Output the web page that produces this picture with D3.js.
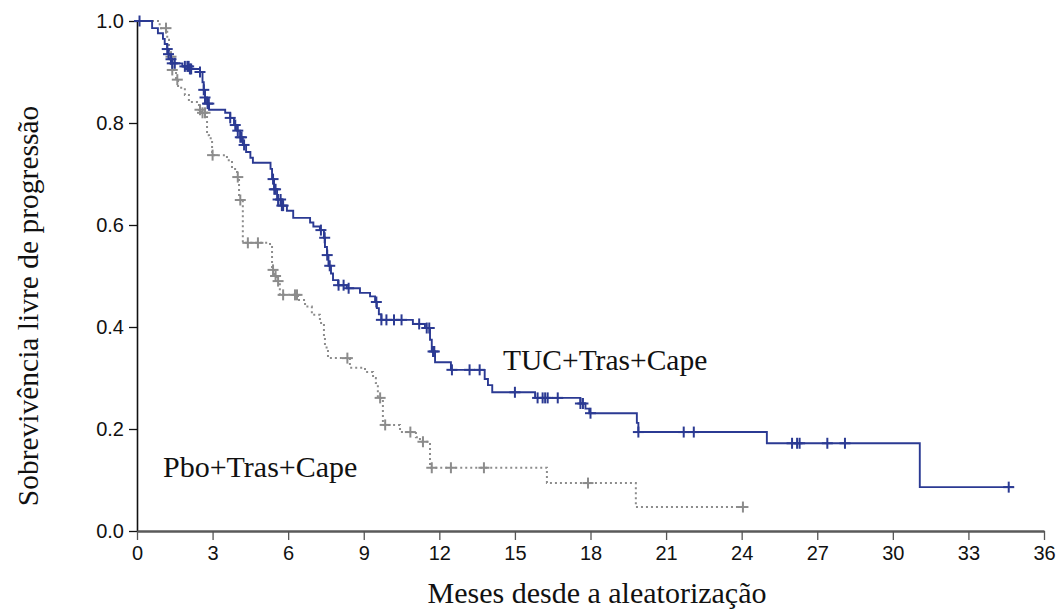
<!DOCTYPE html>
<html><head><meta charset="utf-8">
<script src="https://cdn.jsdelivr.net/npm/d3@7"></script>
<style>
html,body{margin:0;padding:0;background:#fff;}
svg{display:block;}
</style></head>
<body>
<svg id="chart" width="1061" height="612"></svg>
<script>
// ---- data ----
const xTicks = [0,3,6,9,12,15,18,21,24,27,30,33,36];
const yTicks = [0.0,0.2,0.4,0.6,0.8,1.0];
const seriesNames = ["TUC+Tras+Cape","Pbo+Tras+Cape"];

// TUC+Tras+Cape: step times (months) and survival after each step
const tucTimes = [0,0.6,0.83,1.03,1.1,1.2,1.25,1.3,1.4,1.8,2.1,2.5,2.6,2.65,2.7,2.78,2.86,3.5,3.7,3.85,3.97,4.1,4.2,4.33,4.5,4.6,5.3,5.36,5.44,5.56,5.75,5.95,6.2,6.87,7.0,7.26,7.42,7.46,7.54,7.6,7.7,7.78,7.98,8.33,8.85,9.25,9.45,9.52,9.6,9.7,10.95,11.43,11.63,11.7,11.83,12.46,13.8,13.93,14.1,15.8,17.6,17.8,17.95,19.84,19.9,25.0,31.07];
const tucSurv  = [1.0,0.986,0.976,0.965,0.955,0.945,0.935,0.925,0.917,0.911,0.906,0.9,0.88,0.865,0.85,0.838,0.826,0.82,0.81,0.796,0.785,0.772,0.757,0.743,0.732,0.722,0.71,0.69,0.67,0.65,0.638,0.628,0.614,0.605,0.597,0.59,0.575,0.557,0.541,0.52,0.505,0.492,0.482,0.476,0.467,0.46,0.449,0.437,0.425,0.414,0.406,0.398,0.375,0.352,0.331,0.316,0.298,0.286,0.272,0.261,0.25,0.24,0.231,0.212,0.194,0.172,0.086];
const tucEnd = 34.8;
const tucCensor = [0.1,1.2,1.25,1.35,1.4,1.5,1.9,2.0,2.05,2.1,2.15,2.5,2.65,2.7,2.8,2.85,3.7,3.9,4.0,4.1,4.15,4.25,5.4,5.45,5.5,5.6,5.7,5.75,5.8,7.3,7.45,7.55,7.65,8.0,8.2,8.4,9.5,9.7,9.9,10.2,10.5,11.2,11.5,11.6,11.75,11.8,12.5,13.2,13.6,15.0,15.9,16.1,16.2,16.3,16.7,17.6,17.7,18.0,19.9,21.7,22.1,26.0,26.2,26.3,27.4,28.1,34.6];

// Pbo+Tras+Cape
const pboTimes = [0,0.9,1.2,1.27,1.35,1.4,1.55,1.63,1.9,2.06,2.46,2.58,2.78,2.86,2.98,3.57,3.77,3.97,4.05,4.2,5.28,5.36,5.48,5.56,5.67,6.39,6.67,6.94,7.26,7.42,7.46,7.58,8.45,9.05,9.37,9.48,9.56,9.76,10.44,11.07,11.23,11.63,16.27,19.8];
const pboSurv  = [1.0,0.986,0.963,0.94,0.93,0.904,0.885,0.869,0.855,0.841,0.826,0.82,0.776,0.77,0.737,0.727,0.71,0.694,0.649,0.565,0.557,0.512,0.5,0.49,0.463,0.453,0.44,0.424,0.408,0.38,0.36,0.339,0.32,0.312,0.3,0.29,0.261,0.208,0.194,0.184,0.175,0.124,0.094,0.047];
const pboEnd = 24.1;
const pboCensor = [1.15,1.35,1.4,1.6,2.5,2.6,2.7,3.0,4.0,4.1,4.4,4.8,5.4,5.5,5.6,5.8,6.27,6.35,8.35,9.65,9.85,10.85,11.35,11.7,12.46,13.77,17.9,24.05];

// ---- drawing ----
const svg = d3.select("#chart");
const x = d3.scaleLinear().domain([0,36]).range([137,1044]);
const y = d3.scaleLinear().domain([0,1]).range([531,21]);

const tucColor = "#2b3a93", pboColor = "#8c8c8c";

function survAt(times, surv, t){
  let s = surv[0];
  for(let i=0;i<times.length;i++){ if(times[i] <= t + 1e-9) s = surv[i]; }
  return s;
}
function stepPts(times, surv, end){
  const pts = times.map((t,i)=>[t,surv[i]]);
  pts.push([end, surv[surv.length-1]]);
  return pts;
}
const line = d3.line().x(d=>x(d[0])).y(d=>y(d[1])).curve(d3.curveStepAfter);

// axes
const yAxis = d3.axisLeft(y).tickValues(yTicks).tickFormat(d3.format(".1f")).tickSize(8).tickSizeOuter(0).tickPadding(5);
const gy = svg.append("g").attr("transform","translate(137,0)").call(yAxis);
gy.selectAll("text").attr("font-family","'Liberation Sans', Arial, sans-serif").attr("font-size",20).attr("fill","#111");
gy.selectAll("line").attr("stroke","#111").attr("stroke-width",1.3);
gy.select(".domain").attr("stroke","#111").attr("stroke-width",1.6);

const xAxis = d3.axisBottom(x).tickValues(xTicks).tickFormat(d3.format("d")).tickSize(9).tickSizeOuter(0).tickPadding(6);
const gx = svg.append("g").attr("transform","translate(0,531)").call(xAxis);
gx.selectAll("text").attr("font-family","'Liberation Sans', Arial, sans-serif").attr("font-size",20).attr("fill","#111");
gx.selectAll("line").attr("stroke","#555").attr("stroke-width",1.3);
gx.select(".domain").attr("stroke","#5a5a5a").attr("stroke-width",2.4);

// Pbo curve (dotted gray)
svg.append("path").datum(stepPts(pboTimes,pboSurv,pboEnd))
  .attr("d",line).attr("fill","none").attr("stroke",pboColor)
  .attr("stroke-width",2).attr("stroke-dasharray","2,3");
// TUC curve
svg.append("path").datum(stepPts(tucTimes,tucSurv,tucEnd))
  .attr("d",line).attr("fill","none").attr("stroke",tucColor)
  .attr("stroke-width",1.9);

function censor(times, surv, cens, color){
  const g = svg.append("g").attr("stroke",color).attr("stroke-width",2);
  cens.forEach(t=>{
    const cx = x(t), cy = y(survAt(times,surv,t));
    g.append("line").attr("x1",cx-5.5).attr("x2",cx+5.5).attr("y1",cy).attr("y2",cy);
    g.append("line").attr("x1",cx).attr("x2",cx).attr("y1",cy-5.5).attr("y2",cy+5.5);
  });
}
censor(pboTimes,pboSurv,pboCensor,pboColor);
censor(tucTimes,tucSurv,tucCensor,tucColor);

// labels
const serif = "'Liberation Serif','Times New Roman',serif";
svg.append("text").attr("x",503).attr("y",370).attr("font-family",serif).attr("font-size",29.5).attr("fill","#111").text(seriesNames[0]);
svg.append("text").attr("x",163).attr("y",477).attr("font-family",serif).attr("font-size",30).attr("fill","#111").text(seriesNames[1]);

svg.append("text").attr("x",597).attr("y",603).attr("text-anchor","middle").attr("font-family",serif).attr("font-size",30).attr("fill","#111").text("Meses desde a aleatorização");
svg.append("text").attr("transform","translate(38,306) rotate(-90)").attr("text-anchor","middle").attr("font-family",serif).attr("font-size",29.5).attr("fill","#111").text("Sobrevivência livre de progressão");
</script>
</body></html>
